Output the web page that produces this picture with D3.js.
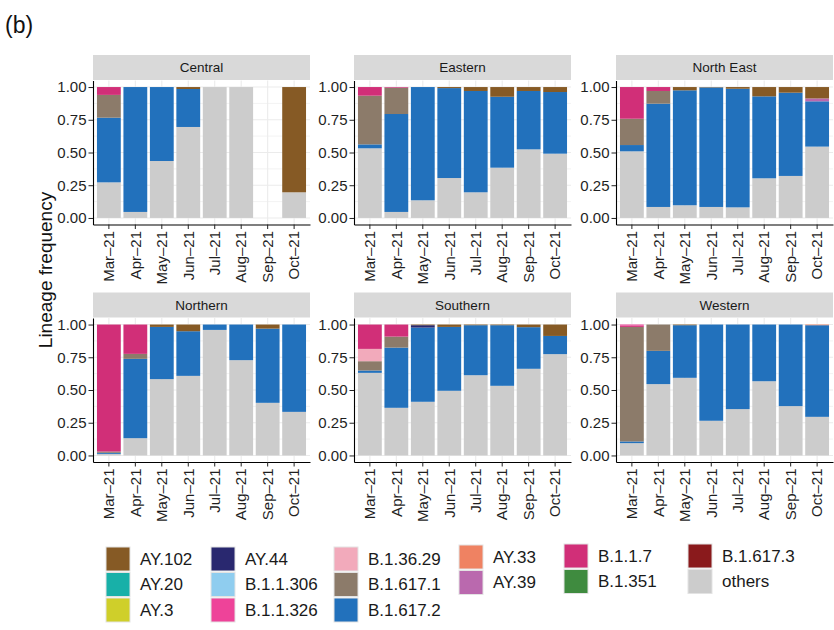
<!DOCTYPE html>
<html>
<head>
<meta charset="utf-8">
<script src="https://cdn.jsdelivr.net/npm/d3@7"></script>
<style>
  body { margin: 0; background: #fff; }
  svg { display: block; }
  text { font-family: "Liberation Sans", Arial, Helvetica, sans-serif; }
</style>
</head>
<body>
<svg id="chart" width="834" height="630"></svg>
<script>
// Monthly lineage frequencies by region, March–October 2021
const months = ["Mar–21", "Apr–21", "May–21", "Jun–21", "Jul–21", "Aug–21", "Sep–21", "Oct–21"];
const regions = ["Central", "Eastern", "North East", "Northern", "Southern", "Western"];

// Stacking order, bottom to top
const stackOrder = ["others", "B.1.617.3", "B.1.617.2", "B.1.617.1", "B.1.36.29", "B.1.351",
  "B.1.1.7", "B.1.1.326", "B.1.1.306", "AY.44", "AY.39", "AY.33", "AY.3", "AY.20", "AY.102"];

const lineageColours = {
  "AY.102": "#865a25", "AY.20": "#18b0a8", "AY.3": "#cfcf2a",
  "AY.44": "#29286f", "B.1.1.306": "#8fcdef", "B.1.1.326": "#ee4399",
  "B.1.36.29": "#f2aabb", "B.1.617.1": "#8c7b6a", "B.1.617.2": "#2271bc",
  "AY.33": "#ef8262", "AY.39": "#ba69ae", "B.1.1.7": "#d12f78",
  "B.1.351": "#3f8b3f", "B.1.617.3": "#8a1a1c", "others": "#cccccc"
};

// Legend layout: one list per column
const legendColumns = [
  ["AY.102", "AY.20", "AY.3"],
  ["AY.44", "B.1.1.306", "B.1.1.326"],
  ["B.1.36.29", "B.1.617.1", "B.1.617.2"],
  ["AY.33", "AY.39"],
  ["B.1.1.7", "B.1.351"],
  ["B.1.617.3", "others"]
];

const yTicks = [0, 0.25, 0.5, 0.75, 1];

// Per-region series (one value per month; missing lineages are zero)
const central = {
  "others":    [0.272, 0.046, 0.435, 0.695, 1, 1, 0, 0.196],
  "B.1.617.2": [0.494, 0.954, 0.565, 0.290, 0, 0, 0, 0],
  "B.1.617.1": [0.174, 0, 0, 0, 0, 0, 0, 0],
  "B.1.1.7":   [0.060, 0, 0, 0, 0, 0, 0, 0],
  "AY.102":    [0, 0, 0, 0.015, 0, 0, 0, 0.804]
};
const eastern = {
  "others":    [0.532, 0.046, 0.135, 0.305, 0.196, 0.384, 0.524, 0.491],
  "B.1.617.2": [0.030, 0.748, 0.865, 0.687, 0.774, 0.542, 0.446, 0.471],
  "B.1.617.1": [0.372, 0.201, 0, 0, 0, 0, 0, 0],
  "B.1.1.7":   [0.066, 0.005, 0, 0, 0, 0, 0, 0],
  "AY.102":    [0, 0, 0, 0.008, 0.030, 0.074, 0.030, 0.038]
};
const northEast = {
  "others":    [0.509, 0.084, 0.097, 0.084, 0.081, 0.303, 0.321, 0.545],
  "B.1.617.2": [0.048, 0.789, 0.878, 0.913, 0.906, 0.626, 0.636, 0.346],
  "B.1.617.1": [0.201, 0.097, 0, 0, 0, 0, 0, 0],
  "B.1.1.7":   [0.242, 0.030, 0, 0, 0, 0, 0, 0],
  "AY.39":     [0, 0, 0, 0, 0, 0, 0, 0.022],
  "AY.102":    [0, 0, 0.025, 0.003, 0.013, 0.071, 0.043, 0.087]
};
const northern = {
  "others":    [0.012, 0.132, 0.583, 0.608, 0.959, 0.728, 0.402, 0.333],
  "B.1.617.2": [0.008, 0.606, 0.399, 0.341, 0.041, 0.272, 0.567, 0.667],
  "B.1.617.1": [0.010, 0.038, 0, 0, 0, 0, 0, 0],
  "B.1.1.7":   [0.970, 0.224, 0, 0, 0, 0, 0, 0],
  "AY.102":    [0, 0, 0.018, 0.051, 0, 0, 0.031, 0]
};
const southern = {
  "others":    [0.631, 0.364, 0.410, 0.494, 0.613, 0.532, 0.662, 0.774],
  "B.1.617.2": [0.018, 0.460, 0.567, 0.488, 0.382, 0.463, 0.318, 0.139],
  "B.1.617.1": [0.071, 0.084, 0, 0, 0, 0, 0, 0],
  "B.1.36.29": [0.094, 0, 0, 0, 0, 0, 0, 0],
  "B.1.1.7":   [0.186, 0.092, 0, 0, 0, 0, 0, 0],
  "AY.44":     [0, 0, 0.018, 0, 0, 0, 0, 0],
  "AY.102":    [0, 0, 0.005, 0.018, 0.005, 0.005, 0.020, 0.087]
};
const western = {
  "others":    [0.094, 0.545, 0.593, 0.265, 0.354, 0.567, 0.377, 0.295],
  "B.1.617.2": [0.013, 0.254, 0.402, 0.735, 0.646, 0.433, 0.623, 0.700],
  "B.1.617.1": [0.875, 0.201, 0, 0, 0, 0, 0, 0],
  "B.1.1.7":   [0.010, 0, 0, 0, 0, 0, 0, 0],
  "B.1.1.326": [0.008, 0, 0, 0, 0, 0, 0, 0],
  "AY.33":     [0, 0, 0, 0, 0, 0, 0, 0.005],
  "AY.102":    [0, 0, 0.005, 0, 0, 0, 0, 0]
};
const regionSeries = [central, eastern, northEast, northern, southern, western];

// ---- layout ----
const svg = d3.select("#chart");
const panelLefts = [93, 354, 616];
const panelWidth = 217;
const plotTops = [80.5, 318];
const plotHeight = 144;
const stripHeight = 25;
const tickLen = 4.5;
const textColour = "#1f1f1f";

svg.append("text")
  .attr("x", 5).attr("y", 33)
  .attr("font-size", 23).attr("fill", "#111")
  .text("(b)");

svg.append("text")
  .attr("transform", "translate(45,270) rotate(-90)")
  .attr("text-anchor", "middle").attr("dominant-baseline", "central")
  .attr("font-size", 19).attr("fill", "#111")
  .text("Lineage frequency");

regions.forEach((name, idx) => {
  const left = panelLefts[idx % 3];
  const top = plotTops[Math.floor(idx / 3)];
  const series = regionSeries[idx];

  const x = d3.scaleBand().domain(months)
    .range([left, left + panelWidth])
    .paddingInner(0.1).paddingOuter(0.15);
  const y = d3.scaleLinear().domain([-0.05, 1.05]).range([top + plotHeight, top]);

  const g = svg.append("g");

  // grid
  const minor = [0.125, 0.375, 0.625, 0.875];
  g.selectAll(".gminor").data(minor).join("line")
    .attr("x1", left).attr("x2", left + panelWidth)
    .attr("y1", d => y(d)).attr("y2", d => y(d))
    .attr("stroke", "#ebebeb").attr("stroke-width", 0.6);
  g.selectAll(".gmajor").data(yTicks).join("line")
    .attr("x1", left).attr("x2", left + panelWidth)
    .attr("y1", d => y(d)).attr("y2", d => y(d))
    .attr("stroke", "#ebebeb").attr("stroke-width", 1.1);
  g.selectAll(".gvert").data(months).join("line")
    .attr("x1", d => x(d) + x.bandwidth() / 2).attr("x2", d => x(d) + x.bandwidth() / 2)
    .attr("y1", top).attr("y2", top + plotHeight)
    .attr("stroke", "#ebebeb").attr("stroke-width", 1.1);

  // stacked, normalised bars
  const rows = months.map((m, i) => {
    const r = { month: m };
    stackOrder.forEach(k => { r[k] = series[k] ? series[k][i] : 0; });
    return r;
  });
  const stacked = d3.stack().keys(stackOrder).offset(d3.stackOffsetExpand)(rows);
  stacked.forEach(layer => {
    g.selectAll(null)
      .data(layer.filter(d => d[1] - d[0] > 0))
      .join("rect")
      .attr("x", d => x(d.data.month))
      .attr("width", x.bandwidth())
      .attr("y", d => y(d[1]))
      .attr("height", d => y(d[0]) - y(d[1]))
      .attr("fill", lineageColours[layer.key]);
  });

  // strip
  svg.append("rect")
    .attr("x", left).attr("y", top - stripHeight - 0.5)
    .attr("width", panelWidth).attr("height", stripHeight)
    .attr("fill", "#d9d9d9");
  svg.append("text")
    .attr("x", left + panelWidth / 2).attr("y", top - stripHeight / 2 - 0.5)
    .attr("text-anchor", "middle").attr("dominant-baseline", "central")
    .attr("font-size", 13.5).attr("fill", "#1a1a1a")
    .text(name);

  // axes
  const yAxis = svg.append("g")
    .attr("transform", `translate(${left},0)`)
    .call(d3.axisLeft(y).tickValues(yTicks).tickFormat(d3.format(".2f"))
      .tickSize(tickLen).tickSizeOuter(0).tickPadding(2));
  const xAxis = svg.append("g")
    .attr("transform", `translate(0,${top + plotHeight})`)
    .call(d3.axisBottom(x).tickSize(tickLen).tickSizeOuter(0));
  xAxis.selectAll("text")
    .attr("transform", "rotate(-90)")
    .attr("x", -(tickLen + 2)).attr("y", 0).attr("dy", "0.35em")
    .style("text-anchor", "end");

  [yAxis, xAxis].forEach(ax => {
    ax.select(".domain").attr("stroke", "#000").attr("stroke-width", 1.1);
    ax.selectAll(".tick line").attr("stroke", "#222").attr("stroke-width", 1);
    ax.selectAll("text").attr("font-size", 15).attr("fill", textColour)
      .attr("font-family", "'Liberation Sans', Arial, sans-serif");
  });
});

// legend
const legendX = [106, 211, 334, 459, 564, 688];
const legendTop = [547, 547, 547, 545, 544, 544];
const keySize = 24;
const keyStep = 25.5;
legendColumns.forEach((col, ci) => {
  col.forEach((lab, ri) => {
    const ky = legendTop[ci] + ri * keyStep;
    svg.append("rect")
      .attr("x", legendX[ci]).attr("y", ky)
      .attr("width", keySize).attr("height", keySize)
      .attr("fill", lineageColours[lab])
      .attr("stroke", "#e3e3e3").attr("stroke-width", 1);
    svg.append("text")
      .attr("x", legendX[ci] + 34).attr("y", ky + keySize / 2)
      .attr("dominant-baseline", "central")
      .attr("font-size", 17).attr("fill", "#1a1a1a")
      .text(lab);
  });
});
</script>
</body>
</html>
